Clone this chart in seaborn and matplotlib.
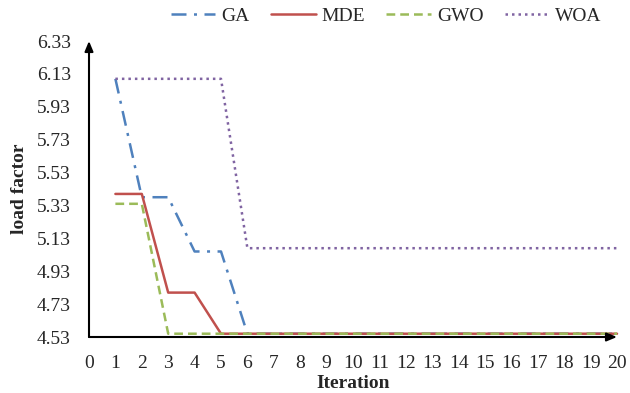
import matplotlib
matplotlib.use("Agg")
import matplotlib.pyplot as plt
import seaborn as sns
import pandas as pd

iterations = list(range(1, 21))
ga = [6.10, 5.38, 5.38, 5.05, 5.05, 4.55] + [4.55] * 14
mde = [5.40, 5.40, 4.80, 4.80, 4.55] + [4.55] * 15
gwo = [5.34, 5.34, 4.55] + [4.55] * 17
woa = [6.10, 6.10, 6.10, 6.10, 6.10, 5.07] + [5.07] * 14
series_names = ["GA", "MDE", "GWO", "WOA"]
y_ticks = [4.53, 4.73, 4.93, 5.13, 5.33, 5.53, 5.73, 5.93, 6.13, 6.33]
x_ticks = list(range(0, 21))

sns.set_style("white")
plt.rcParams['font.family'] = ['Liberation Serif', 'DejaVu Serif']

fig = plt.figure(figsize=(6.3, 3.93), dpi=100)
ax = fig.add_axes([89/630, 1 - 337/393, (617-89)/630, (337-41)/393])

styles = {
    "GA": dict(color="#4F81BD", ls=(0, (6, 3, 1.2, 3))),
    "MDE": dict(color="#C0504D", ls="-"),
    "GWO": dict(color="#9BBB59", ls=(0, (3.5, 2))),
    "WOA": dict(color="#8064A2", ls=(0, (1, 1.6))),
}
data = {"GA": ga, "MDE": mde, "GWO": gwo, "WOA": woa}
for name in series_names:
    df = pd.DataFrame({"Iteration": iterations, "value": data[name]})
    sns.lineplot(data=df, x="Iteration", y="value", ax=ax, label=name,
                 color=styles[name]["color"], linestyle=styles[name]["ls"],
                 lw=1.8, clip_on=False)

ax.set_xlim(0, 20)
ax.set_ylim(4.53, 6.33)
ax.set_xticks(x_ticks)
ax.set_yticks(y_ticks)
ax.set_yticklabels([f"{v:.2f}" for v in y_ticks])
ax.tick_params(axis="both", length=0, labelsize=14, pad=13)
for s in ax.spines.values():
    s.set_visible(False)
ax.annotate("", xy=(0, 1.0), xytext=(0, 0), xycoords="axes fraction",
            arrowprops=dict(arrowstyle="-|>,head_length=0.6,head_width=0.25",
                            color="black", lw=1.5, shrinkA=0, shrinkB=0))
ax.annotate("", xy=(1.0, 0), xytext=(0, 0), xycoords="axes fraction",
            arrowprops=dict(arrowstyle="-|>,head_length=0.6,head_width=0.25",
                            color="black", lw=1.5, shrinkA=0, shrinkB=0))
ax.set_xlabel("Iteration", fontsize=14, fontweight="bold", labelpad=2)
ax.set_ylabel("load factor", fontsize=14, fontweight="bold", labelpad=6)
ax.grid(False)

ax.legend(loc="center", bbox_to_anchor=(0.563, 1.085), ncol=4, frameon=False,
          fontsize=14, handlelength=2.3, columnspacing=1.1, handletextpad=0.3,
          borderaxespad=0, borderpad=0)

fig.savefig("out.png", dpi=100)
